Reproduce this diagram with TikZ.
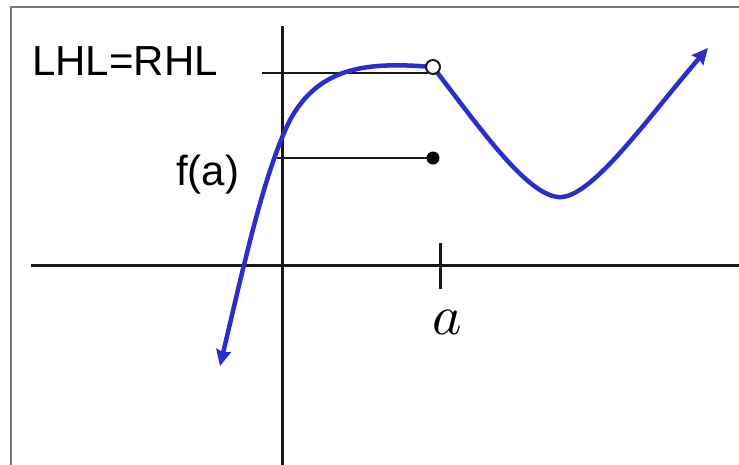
\documentclass[tikz,border=0pt]{standalone}
\usepackage{fontspec}
\setmainfont{Liberation Sans}
\usetikzlibrary{arrows.meta}
\definecolor{curveblue}{RGB}{45,45,205}
\definecolor{axisgray}{RGB}{25,25,25}
\definecolor{framegray}{RGB}{120,120,120}
\begin{document}
\begin{tikzpicture}[x=1pt,y=-1pt,
  axis/.style={line width=3pt,draw=axisgray},
  guide/.style={line width=2.5pt,draw=axisgray},
  graph/.style={line width=4.5pt,draw=curveblue,line cap=round},
  graphtip/.tip={Stealth[length=16pt,width=15pt,inset=2pt]},
  lbl/.style={font=\fontsize{42}{48}\selectfont,inner sep=0pt,anchor=base west},
  opendot/.style={circle,draw=axisgray,fill=white,line width=2pt,minimum size=14pt,inner sep=0pt},
  fulldot/.style={circle,fill=black,minimum size=13pt,inner sep=0pt}]
\useasboundingbox (0,0) rectangle (739,464);
\fill[white] (0,0) rectangle (739,464);
% frame
\draw[framegray,line width=2pt] (10.5,470) -- (10.5,7) -- (745,7);
% axes
\coordinate (xl) at (31,265);
\coordinate (xr) at (745,265);
\coordinate (yt) at (282,26);
\coordinate (yb) at (282,470);
\draw[axis] (xl) -- (xr);
\draw[axis] (yt) -- (yb);
% tick
\coordinate (tt) at (440,243);
\coordinate (tb) at (440,289);
\draw[axis] (tt) -- (tb);
\node[inner sep=0pt,scale=5.6] (alabel) at (447,322) {$a$};
% labels
\node[lbl] (lhl) at (32,75) {LHL=RHL};
\node[lbl] (fa) at (176,185) {f(a)};
% key points
\coordinate (hole) at (433,67);
\coordinate (fpt) at (433,158);
% guide lines
\coordinate (lhlstart) at (262,73);
\coordinate (lhlend) at (428,73);
\draw[guide] (lhlstart) -- (lhlend);
\coordinate (fstart) at (277,158);
\draw[guide] (fstart) -- (fpt);
% curve
\coordinate (ltip) at (220,366);
\coordinate (rtip) at (708,48);
\draw[graph,graphtip-graphtip] (ltip) .. controls (245,260) and (265,170) .. (290,120)
  .. controls (320,65) and (370,62) .. (hole)
  .. controls (480,128) and (530,200) .. (562,197)
  .. controls (595,194) and (650,115) .. (rtip);
% dots
\node[opendot] (odot) at (hole) {};
\node[fulldot] (fdot) at (fpt) {};
\end{tikzpicture}
\end{document}
